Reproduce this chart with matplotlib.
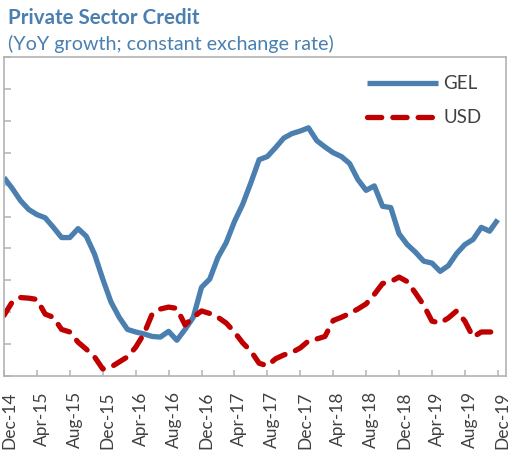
import matplotlib.pyplot as plt
import matplotlib.transforms as mtransforms
import numpy as np

# month labels every 4 months, Dec-14 .. Dec-19
tick_labels = ["Dec-14", "Apr-15", "Aug-15", "Dec-15", "Apr-16", "Aug-16", "Dec-16",
               "Apr-17", "Aug-17", "Dec-17", "Apr-18", "Aug-18", "Dec-18", "Apr-19",
               "Aug-19", "Dec-19"]

# YoY growth, %, monthly Dec-14 .. Dec-19
gel = [21.1, 19.4, 17.5, 16.1, 15.3, 14.8, 13.3, 11.7, 11.7, 13.1,
       11.9, 9.1, 5.2, 1.6, -0.8, -2.7, -3.1, -3.4, -3.8, -3.9,
       -3.0, -4.4, -2.7, -0.8, 3.9, 5.2, 8.6, 10.9, 14.2, 16.9,
       20.3, 23.9, 24.4, 25.8, 27.3, 28.0, 28.4, 28.9, 26.9, 25.9,
       25.0, 24.4, 23.3, 20.8, 19.1, 19.8, 16.6, 16.4, 12.3, 10.6,
       9.4, 8.0, 7.7, 6.4, 7.3, 9.2, 10.6, 11.4, 13.3, 12.7,
       14.5]
usd = [-0.5, 1.6, 2.3, 2.2, 2.0, -0.3, -0.8, -2.7, -3.1, -4.7,
       -5.8, -7.0, -8.9, -8.6, -7.8, -7.0, -5.5, -3.4, -0.3, 0.5,
       0.8, 0.6, -2.0, -0.8, 0.2, -0.2, -0.8, -1.7, -3.1, -4.8,
       -6.1, -8.0, -8.4, -7.3, -6.7, -6.3, -5.6, -4.5, -4.2, -3.8,
       -1.3, -0.8, -0.2, 0.5, 1.3, 2.8, 4.5, 4.8, 5.5, 4.8,
       3.0, 1.1, -1.4, -1.7, -0.9, 0.2, -1.4, -3.9, -3.1, -3.1,
       -3.1]

months = np.arange(len(gel))

blue = "#4a7fb0"
red = "#c00000"
grey = "#b3b3b3"
text_grey = "#404040"

plt.rcParams['font.family'] = ['Lato', 'DejaVu Sans']

fig = plt.figure(figsize=(5.11, 4.54), dpi=100)
ax = fig.add_axes([4 / 511, (454 - 376) / 454, 502 / 511, 319 / 454])

ax.plot(months, gel, color=blue, lw=3.8, solid_capstyle='butt', label="GEL")
ax.plot(months, usd, color=red, lw=3.8, ls=(0, (2.7, 2.1)),
        dash_capstyle='round', label="USD")

ax.set_xlim(0, 61)
ax.set_ylim(-10, 40)
ax.set_xticks(np.arange(0, 61, 4))
ax.set_xticklabels(tick_labels, rotation=90, color=text_grey, fontsize=12.5)
ax.set_yticks(np.arange(-10, 41, 5))
ax.set_yticklabels([])
ax.tick_params(direction='in', color=grey, width=1.1)
ax.tick_params(axis='y', length=5)
ax.tick_params(axis='x', length=4, pad=11)

# nudge x labels a little right of their ticks, as in the original
shift = mtransforms.ScaledTranslation(5 / 100, 0, fig.dpi_scale_trans)
for lab in ax.get_xticklabels():
    lab.set_transform(lab.get_transform() + shift)

for s in ax.spines.values():
    s.set_color(grey)
    s.set_linewidth(1.2)

leg = ax.legend(loc='upper right', frameon=False, fontsize=13.5,
                handlelength=3.8, labelspacing=0.9, handletextpad=0.3,
                bbox_to_anchor=(0.985, 0.995))
for t in leg.get_texts():
    t.set_color(text_grey)

fig.text(8 / 511, 1 - 18 / 454, "Private Sector Credit", color=blue,
         fontsize=14.8, fontweight='bold', va='center', ha='left')
fig.text(8 / 511, 1 - 44 / 454, "(YoY growth; constant exchange rate)", color=blue,
         fontsize=14.2, va='center', ha='left')

fig.savefig("out.png", dpi=100)
